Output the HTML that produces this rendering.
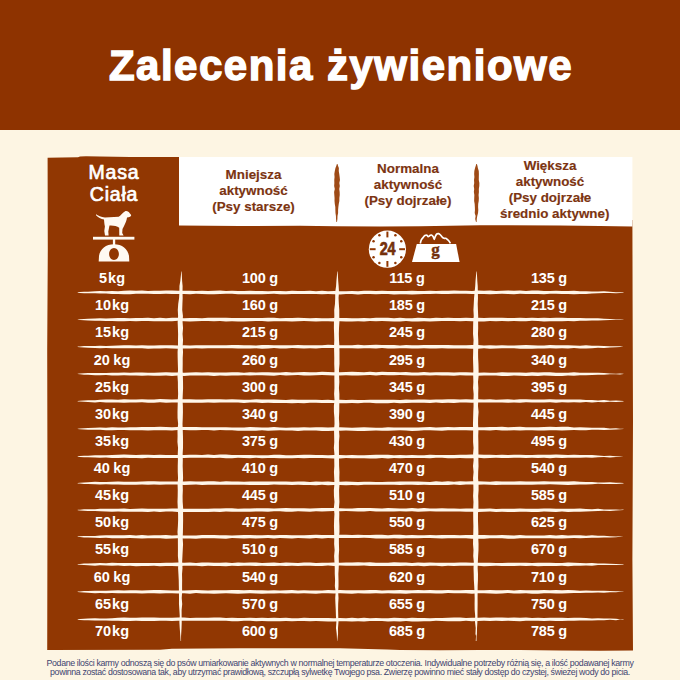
<!DOCTYPE html>
<html><head><meta charset="utf-8">
<style>
html,body{margin:0;padding:0;}
body{width:680px;height:680px;overflow:hidden;position:relative;background:#fdf5e3;font-family:"Liberation Sans",sans-serif;}
.hdr{position:absolute;left:0;top:0;width:680px;height:130px;background:#8e3300;}
.title{position:absolute;left:1px;top:40.5px;width:680px;text-align:center;color:#fff;font-weight:bold;font-size:42px;letter-spacing:1.5px;line-height:50px;white-space:nowrap;-webkit-text-stroke:1.4px #fff;}
svg.tb{position:absolute;left:0;top:0;}
.r{position:absolute;left:0;width:680px;height:20px;line-height:20px;font-size:14.5px;font-weight:bold;color:#fff;white-space:nowrap;}
.r span.c1,.r span.c2,.r span.c3,.r span.c4{position:absolute;top:0;text-align:center;}
.c1{left:62px;width:100px;}
.c2{left:210px;width:100px;letter-spacing:-0.2px;}
.c3{left:357px;width:100px;letter-spacing:-0.2px;}
.c4{left:499px;width:100px;letter-spacing:-0.2px;}
.kg{margin-left:1px;}
.hd{position:absolute;text-align:center;color:#7c3411;font-weight:bold;font-size:13.4px;line-height:16px;white-space:nowrap;-webkit-text-stroke:0.15px #7c3411;}
.masa{position:absolute;left:64px;width:100px;top:160.5px;text-align:center;color:#fff;font-weight:normal;font-size:19.5px;letter-spacing:0.8px;line-height:22.7px;-webkit-text-stroke:0.7px #fff;}
.foot{position:absolute;left:0;width:680px;top:659px;text-align:center;color:#3d4470;font-size:8.8px;letter-spacing:-0.35px;line-height:9.4px;white-space:nowrap;}
</style></head><body>
<div class="hdr"></div>
<div class="title">Zalecenia żywieniowe</div>
<svg class="tb" width="680" height="680" viewBox="0 0 680 680">
<path fill="#913702" d="M47.6 157.8 L62 157.4 L78 157.2 L80 156.4 L86 156.2 L100 156.6 L130 156.9 L179 157 L600 157 L600 220 L632.4 220 L632.6 300 L633 420 L632.4 560 L633 650.5 L600 650.8 L560 650.5 L520 650 L480 650 L440 650.3 L400 650 L387 649.6 L340 648.3 L240 648.2 L172 648.8 L160 649.8 L47.2 650 L47.5 500 L47.2 350 L47.8 250 Z"/>
<path fill="#ffffff" d="M179 157 L632.4 157 L632.4 226.4 L600 226 L560 225.6 L480 225.2 L420 226.2 L380 226.4 L336 226.2 L300 225.8 L240 226 L179 225.6 Z"/>
<path fill="#9e4a16" d="M336.90 164.0 L336.28 166.0 L335.45 168.0 L334.81 171.0 L334.32 174.0 L334.56 177.0 L334.26 180.0 L334.35 183.0 L334.15 186.0 L334.79 189.0 L334.11 192.0 L334.32 195.0 L334.56 198.0 L334.52 201.0 L334.79 204.0 L335.32 207.0 L335.36 210.0 L335.49 213.0 L335.94 216.0 L336.03 219.0 L336.40 222.0 L337.00 222.0 L337.40 219.0 L337.50 216.0 L338.10 213.0 L338.09 210.0 L338.35 207.0 L338.75 204.0 L339.35 201.0 L339.36 198.0 L339.73 195.0 L339.65 192.0 L339.25 189.0 L339.80 186.0 L339.33 183.0 L339.96 180.0 L339.66 177.0 L339.26 174.0 L338.76 171.0 L338.87 168.0 L338.08 166.0 L337.50 164.0Z"/>
<path fill="#9e4a16" d="M476.30 164.0 L475.69 166.0 L475.03 168.0 L474.33 171.0 L474.16 174.0 L474.40 177.0 L474.02 180.0 L474.22 183.0 L473.70 186.0 L474.19 189.0 L473.85 192.0 L474.35 195.0 L474.23 198.0 L474.14 201.0 L474.67 204.0 L474.85 207.0 L474.95 210.0 L474.69 213.0 L475.63 216.0 L475.19 219.0 L476.00 222.0 L476.60 222.0 L476.75 219.0 L477.27 216.0 L478.04 213.0 L478.29 210.0 L478.10 207.0 L478.19 204.0 L478.71 201.0 L478.85 198.0 L478.58 195.0 L478.92 192.0 L478.83 189.0 L479.29 186.0 L479.37 183.0 L478.79 180.0 L478.83 177.0 L478.89 174.0 L478.77 171.0 L477.86 168.0 L477.49 166.0 L476.90 164.0Z"/>
<g fill="#fff6e9">
<path d="M77.7 292.30 L80.0 292.11 L84.0 291.79 L88.0 291.64 L95.0 291.33 L100.0 291.03 L106.0 291.37 L112.0 290.90 L118.0 291.23 L124.0 290.85 L130.0 290.61 L136.0 290.73 L142.0 290.60 L148.0 291.00 L154.0 290.85 L160.0 290.72 L166.0 290.53 L172.0 290.62 L178.0 290.75 L184.0 290.85 L190.0 290.68 L196.0 290.93 L202.0 290.86 L208.0 291.04 L214.0 290.70 L220.0 290.61 L226.0 291.00 L232.0 290.85 L238.0 290.96 L244.0 290.92 L250.0 290.77 L256.0 290.95 L262.0 290.88 L268.0 291.19 L274.0 291.03 L280.0 291.06 L286.0 291.25 L292.0 290.83 L298.0 291.07 L304.0 290.95 L310.0 290.75 L316.0 291.15 L322.0 290.84 L328.0 291.22 L334.0 290.97 L340.0 291.23 L346.0 291.22 L352.0 290.95 L358.0 291.23 L364.0 290.79 L370.0 290.84 L376.0 290.98 L382.0 290.85 L388.0 290.93 L394.0 291.01 L400.0 291.08 L406.0 291.03 L412.0 290.68 L418.0 291.10 L424.0 291.10 L430.0 290.85 L436.0 290.98 L442.0 290.63 L448.0 290.68 L454.0 290.60 L460.0 290.65 L466.0 290.77 L472.0 291.07 L478.0 290.62 L484.0 290.73 L490.0 290.59 L496.0 291.11 L502.0 290.80 L508.0 290.56 L514.0 290.66 L520.0 290.59 L526.0 291.06 L532.0 290.58 L538.0 290.51 L544.0 291.09 L550.0 290.92 L556.0 290.73 L562.0 290.98 L568.0 290.99 L574.0 290.74 L580.0 291.33 L586.0 291.35 L592.0 291.45 L598.0 291.49 L604.0 291.37 L610.0 291.70 L616.0 292.15 L620.0 292.15 L623.5 292.60 L623.5 292.98 L620.0 293.09 L616.0 293.23 L610.0 292.99 L604.0 293.02 L598.0 293.36 L592.0 293.44 L586.0 293.91 L580.0 294.05 L574.0 294.13 L568.0 293.92 L562.0 294.03 L556.0 293.81 L550.0 293.86 L544.0 294.22 L538.0 294.01 L532.0 294.02 L526.0 294.01 L520.0 293.71 L514.0 294.19 L508.0 293.91 L502.0 293.76 L496.0 293.99 L490.0 294.23 L484.0 293.94 L478.0 293.88 L472.0 294.11 L466.0 293.77 L460.0 293.82 L454.0 293.77 L448.0 293.99 L442.0 293.92 L436.0 293.84 L430.0 293.88 L424.0 294.06 L418.0 294.36 L412.0 294.39 L406.0 294.26 L400.0 294.17 L394.0 294.45 L388.0 294.10 L382.0 293.89 L376.0 294.25 L370.0 294.04 L364.0 294.01 L358.0 294.48 L352.0 294.12 L346.0 294.07 L340.0 294.40 L334.0 294.23 L328.0 293.95 L322.0 294.13 L316.0 293.97 L310.0 293.92 L304.0 293.98 L298.0 293.88 L292.0 294.09 L286.0 294.34 L280.0 294.23 L274.0 293.87 L268.0 294.10 L262.0 294.31 L256.0 294.14 L250.0 294.20 L244.0 294.30 L238.0 294.22 L232.0 293.78 L226.0 293.84 L220.0 293.99 L214.0 294.31 L208.0 294.16 L202.0 294.03 L196.0 293.85 L190.0 294.18 L184.0 293.97 L178.0 293.88 L172.0 294.10 L166.0 293.73 L160.0 294.02 L154.0 294.08 L148.0 293.80 L142.0 293.86 L136.0 293.75 L130.0 294.17 L124.0 294.22 L118.0 293.95 L112.0 293.89 L106.0 293.50 L100.0 293.60 L95.0 293.31 L88.0 293.33 L84.0 293.19 L80.0 292.88 L77.7 292.70Z"/>
<path d="M77.7 319.40 L80.0 319.21 L84.0 318.89 L88.0 318.74 L95.0 318.57 L100.0 318.14 L106.0 318.53 L112.0 318.33 L118.0 317.89 L124.0 317.93 L130.0 318.29 L136.0 317.92 L142.0 318.09 L148.0 317.71 L154.0 318.16 L160.0 317.71 L166.0 318.21 L172.0 317.83 L178.0 317.70 L184.0 318.20 L190.0 317.94 L196.0 317.89 L202.0 318.13 L208.0 317.79 L214.0 317.79 L220.0 317.81 L226.0 317.74 L232.0 317.88 L238.0 318.02 L244.0 317.93 L250.0 317.99 L256.0 318.01 L262.0 317.97 L268.0 317.72 L274.0 317.83 L280.0 318.17 L286.0 317.93 L292.0 318.08 L298.0 317.82 L304.0 317.91 L310.0 318.23 L316.0 318.11 L322.0 318.32 L328.0 318.14 L334.0 318.09 L340.0 318.05 L346.0 318.07 L352.0 318.20 L358.0 318.35 L364.0 318.11 L370.0 318.28 L376.0 317.84 L382.0 317.81 L388.0 317.81 L394.0 318.23 L400.0 317.84 L406.0 318.14 L412.0 318.27 L418.0 317.86 L424.0 317.96 L430.0 318.31 L436.0 317.80 L442.0 318.00 L448.0 317.80 L454.0 318.11 L460.0 318.00 L466.0 317.67 L472.0 318.03 L478.0 317.69 L484.0 318.11 L490.0 317.70 L496.0 317.65 L502.0 317.79 L508.0 317.88 L514.0 318.11 L520.0 317.71 L526.0 317.96 L532.0 317.67 L538.0 318.03 L544.0 317.67 L550.0 318.01 L556.0 317.68 L562.0 317.67 L568.0 317.91 L574.0 318.06 L580.0 318.01 L586.0 318.29 L592.0 318.18 L598.0 318.32 L604.0 318.64 L610.0 319.09 L616.0 319.13 L620.0 319.19 L623.5 319.26 L623.5 319.52 L620.0 319.64 L616.0 319.87 L610.0 320.11 L604.0 320.29 L598.0 320.38 L592.0 320.51 L586.0 320.68 L580.0 320.73 L574.0 321.32 L568.0 321.04 L562.0 321.35 L556.0 321.34 L550.0 321.31 L544.0 321.38 L538.0 321.08 L532.0 320.85 L526.0 321.24 L520.0 321.37 L514.0 320.98 L508.0 321.37 L502.0 320.90 L496.0 321.30 L490.0 321.00 L484.0 321.42 L478.0 321.44 L472.0 321.16 L466.0 321.06 L460.0 321.13 L454.0 320.89 L448.0 321.08 L442.0 321.10 L436.0 321.16 L430.0 321.41 L424.0 321.21 L418.0 321.50 L412.0 321.52 L406.0 321.03 L400.0 321.38 L394.0 321.49 L388.0 321.36 L382.0 321.11 L376.0 321.24 L370.0 321.06 L364.0 321.54 L358.0 321.14 L352.0 321.51 L346.0 321.55 L340.0 321.30 L334.0 321.39 L328.0 321.28 L322.0 321.24 L316.0 321.42 L310.0 321.27 L304.0 321.12 L298.0 321.29 L292.0 321.42 L286.0 321.25 L280.0 321.26 L274.0 321.21 L268.0 321.39 L262.0 321.02 L256.0 320.91 L250.0 321.21 L244.0 321.43 L238.0 321.41 L232.0 321.14 L226.0 321.40 L220.0 321.10 L214.0 321.20 L208.0 321.01 L202.0 320.96 L196.0 321.35 L190.0 321.38 L184.0 321.21 L178.0 320.83 L172.0 321.15 L166.0 321.21 L160.0 321.32 L154.0 321.31 L148.0 320.91 L142.0 320.90 L136.0 321.35 L130.0 321.01 L124.0 321.24 L118.0 321.19 L112.0 320.91 L106.0 321.01 L100.0 320.85 L95.0 320.86 L88.0 320.43 L84.0 320.29 L80.0 319.98 L77.7 319.80Z"/>
<path d="M77.7 346.60 L80.0 346.42 L84.0 346.11 L88.0 345.98 L95.0 345.94 L100.0 345.68 L106.0 345.88 L112.0 345.71 L118.0 345.50 L124.0 345.30 L130.0 345.15 L136.0 345.51 L142.0 345.15 L148.0 345.54 L154.0 345.44 L160.0 345.18 L166.0 345.32 L172.0 345.31 L178.0 345.61 L184.0 345.36 L190.0 345.61 L196.0 345.24 L202.0 345.24 L208.0 345.31 L214.0 345.30 L220.0 345.14 L226.0 345.21 L232.0 344.97 L238.0 345.09 L244.0 345.25 L250.0 345.31 L256.0 345.43 L262.0 345.09 L268.0 344.97 L274.0 345.25 L280.0 345.35 L286.0 345.21 L292.0 345.31 L298.0 345.12 L304.0 345.30 L310.0 345.29 L316.0 345.32 L322.0 345.19 L328.0 344.79 L334.0 344.98 L340.0 345.26 L346.0 345.14 L352.0 345.17 L358.0 344.76 L364.0 345.21 L370.0 345.09 L376.0 344.82 L382.0 344.94 L388.0 344.95 L394.0 344.93 L400.0 345.40 L406.0 345.06 L412.0 345.25 L418.0 345.22 L424.0 344.91 L430.0 345.03 L436.0 345.08 L442.0 344.92 L448.0 345.09 L454.0 345.35 L460.0 345.13 L466.0 345.24 L472.0 345.05 L478.0 345.11 L484.0 345.56 L490.0 345.29 L496.0 345.60 L502.0 345.19 L508.0 345.60 L514.0 345.38 L520.0 345.35 L526.0 345.12 L532.0 345.34 L538.0 345.46 L544.0 345.57 L550.0 345.04 L556.0 345.32 L562.0 345.20 L568.0 345.21 L574.0 345.58 L580.0 345.64 L586.0 345.37 L592.0 345.84 L598.0 345.74 L604.0 345.94 L610.0 346.22 L616.0 346.30 L620.0 346.20 L623.5 346.79 L623.5 346.86 L620.0 346.88 L616.0 347.13 L610.0 347.39 L604.0 347.96 L598.0 347.76 L592.0 348.25 L586.0 348.41 L580.0 348.49 L574.0 348.12 L568.0 348.40 L562.0 348.30 L556.0 348.49 L550.0 348.23 L544.0 348.53 L538.0 348.38 L532.0 348.77 L526.0 348.73 L520.0 348.81 L514.0 348.32 L508.0 348.36 L502.0 348.35 L496.0 348.49 L490.0 348.70 L484.0 348.21 L478.0 348.78 L472.0 348.71 L466.0 348.45 L460.0 348.46 L454.0 348.54 L448.0 348.53 L442.0 348.15 L436.0 348.44 L430.0 348.53 L424.0 348.15 L418.0 348.44 L412.0 348.50 L406.0 348.31 L400.0 348.31 L394.0 348.45 L388.0 348.43 L382.0 348.03 L376.0 348.42 L370.0 348.37 L364.0 348.27 L358.0 348.44 L352.0 348.25 L346.0 348.34 L340.0 348.30 L334.0 348.03 L328.0 348.05 L322.0 348.11 L316.0 348.39 L310.0 348.34 L304.0 348.48 L298.0 348.31 L292.0 348.11 L286.0 348.47 L280.0 348.58 L274.0 348.09 L268.0 348.51 L262.0 348.68 L256.0 348.34 L250.0 348.55 L244.0 348.58 L238.0 348.50 L232.0 348.34 L226.0 348.20 L220.0 348.24 L214.0 348.20 L208.0 348.33 L202.0 348.50 L196.0 348.22 L190.0 348.42 L184.0 348.38 L178.0 348.82 L172.0 348.40 L166.0 348.33 L160.0 348.41 L154.0 348.40 L148.0 348.75 L142.0 348.25 L136.0 348.33 L130.0 348.19 L124.0 348.15 L118.0 348.30 L112.0 348.37 L106.0 348.05 L100.0 348.15 L95.0 347.88 L88.0 347.67 L84.0 347.51 L80.0 347.19 L77.7 347.00Z"/>
<path d="M77.7 373.70 L80.0 373.53 L84.0 373.23 L88.0 373.10 L95.0 372.95 L100.0 373.08 L106.0 372.88 L112.0 372.81 L118.0 372.75 L124.0 372.45 L130.0 372.83 L136.0 372.55 L142.0 372.44 L148.0 372.84 L154.0 372.65 L160.0 372.59 L166.0 372.36 L172.0 372.39 L178.0 372.56 L184.0 372.79 L190.0 372.51 L196.0 372.35 L202.0 372.42 L208.0 372.34 L214.0 372.52 L220.0 372.61 L226.0 372.39 L232.0 372.34 L238.0 372.13 L244.0 372.64 L250.0 372.34 L256.0 372.53 L262.0 372.14 L268.0 372.19 L274.0 372.50 L280.0 372.43 L286.0 371.90 L292.0 372.39 L298.0 372.18 L304.0 372.05 L310.0 372.29 L316.0 372.36 L322.0 371.83 L328.0 372.07 L334.0 372.31 L340.0 372.13 L346.0 372.01 L352.0 371.76 L358.0 371.88 L364.0 372.14 L370.0 371.83 L376.0 372.15 L382.0 371.85 L388.0 372.11 L394.0 372.05 L400.0 372.20 L406.0 372.04 L412.0 372.46 L418.0 372.44 L424.0 372.08 L430.0 372.54 L436.0 372.18 L442.0 372.32 L448.0 372.30 L454.0 372.47 L460.0 372.23 L466.0 372.33 L472.0 372.56 L478.0 372.65 L484.0 372.49 L490.0 372.79 L496.0 372.71 L502.0 372.37 L508.0 372.42 L514.0 372.55 L520.0 372.39 L526.0 372.66 L532.0 372.35 L538.0 372.39 L544.0 372.34 L550.0 372.28 L556.0 372.77 L562.0 372.66 L568.0 372.76 L574.0 372.37 L580.0 372.81 L586.0 372.86 L592.0 372.79 L598.0 372.80 L604.0 373.00 L610.0 373.56 L616.0 373.72 L620.0 373.48 L623.5 373.87 L623.5 374.03 L620.0 374.41 L616.0 374.20 L610.0 374.36 L604.0 374.70 L598.0 374.68 L592.0 375.06 L586.0 375.25 L580.0 375.18 L574.0 375.86 L568.0 375.60 L562.0 376.02 L556.0 375.96 L550.0 375.68 L544.0 375.48 L538.0 376.04 L532.0 375.70 L526.0 376.03 L520.0 375.71 L514.0 375.57 L508.0 376.02 L502.0 375.89 L496.0 375.56 L490.0 375.59 L484.0 375.51 L478.0 375.81 L472.0 375.46 L466.0 375.58 L460.0 375.32 L454.0 375.83 L448.0 375.40 L442.0 375.62 L436.0 375.20 L430.0 375.59 L424.0 375.29 L418.0 375.40 L412.0 375.47 L406.0 375.34 L400.0 375.05 L394.0 375.15 L388.0 375.35 L382.0 375.03 L376.0 375.39 L370.0 375.11 L364.0 375.13 L358.0 375.49 L352.0 375.41 L346.0 375.27 L340.0 375.40 L334.0 375.38 L328.0 375.36 L322.0 375.06 L316.0 375.13 L310.0 375.51 L304.0 375.57 L298.0 375.03 L292.0 375.34 L286.0 375.50 L280.0 375.12 L274.0 375.64 L268.0 375.42 L262.0 375.33 L256.0 375.34 L250.0 375.61 L244.0 375.34 L238.0 375.46 L232.0 375.52 L226.0 375.65 L220.0 375.61 L214.0 375.91 L208.0 375.56 L202.0 375.47 L196.0 375.49 L190.0 375.53 L184.0 376.05 L178.0 375.59 L172.0 376.00 L166.0 375.56 L160.0 375.70 L154.0 375.63 L148.0 375.60 L142.0 375.85 L136.0 375.58 L130.0 375.42 L124.0 375.33 L118.0 375.62 L112.0 375.39 L106.0 375.03 L100.0 375.21 L95.0 375.32 L88.0 374.79 L84.0 374.63 L80.0 374.29 L77.7 374.10Z"/>
<path d="M77.7 401.00 L80.0 400.81 L84.0 400.47 L88.0 400.31 L95.0 400.21 L100.0 399.64 L106.0 399.53 L112.0 399.53 L118.0 399.80 L124.0 399.36 L130.0 399.52 L136.0 399.55 L142.0 399.25 L148.0 399.51 L154.0 399.42 L160.0 399.05 L166.0 399.31 L172.0 399.60 L178.0 399.18 L184.0 399.34 L190.0 399.16 L196.0 399.50 L202.0 399.54 L208.0 399.29 L214.0 399.33 L220.0 399.18 L226.0 399.61 L232.0 399.22 L238.0 399.54 L244.0 399.82 L250.0 399.86 L256.0 399.34 L262.0 399.62 L268.0 399.62 L274.0 399.62 L280.0 399.81 L286.0 399.94 L292.0 399.52 L298.0 399.65 L304.0 399.72 L310.0 399.63 L316.0 399.68 L322.0 400.07 L328.0 399.75 L334.0 400.16 L340.0 399.71 L346.0 399.96 L352.0 399.63 L358.0 400.06 L364.0 400.11 L370.0 399.73 L376.0 399.65 L382.0 399.87 L388.0 399.73 L394.0 399.76 L400.0 399.93 L406.0 399.51 L412.0 399.79 L418.0 399.61 L424.0 399.49 L430.0 399.70 L436.0 399.43 L442.0 399.48 L448.0 399.36 L454.0 399.35 L460.0 399.53 L466.0 399.23 L472.0 399.48 L478.0 399.18 L484.0 399.52 L490.0 399.26 L496.0 399.64 L502.0 399.40 L508.0 399.30 L514.0 399.64 L520.0 399.15 L526.0 399.15 L532.0 399.57 L538.0 399.53 L544.0 399.57 L550.0 399.15 L556.0 399.39 L562.0 399.62 L568.0 399.47 L574.0 399.49 L580.0 399.50 L586.0 400.03 L592.0 399.93 L598.0 400.40 L604.0 400.08 L610.0 400.80 L616.0 400.46 L620.0 400.82 L623.5 401.10 L623.5 401.62 L620.0 401.78 L616.0 401.91 L610.0 401.80 L604.0 402.23 L598.0 401.91 L592.0 402.41 L586.0 402.10 L580.0 402.45 L574.0 402.32 L568.0 402.52 L562.0 402.33 L556.0 402.65 L550.0 402.26 L544.0 402.52 L538.0 402.48 L532.0 402.48 L526.0 402.23 L520.0 402.67 L514.0 402.46 L508.0 402.76 L502.0 402.47 L496.0 402.46 L490.0 402.47 L484.0 402.55 L478.0 402.42 L472.0 402.73 L466.0 402.61 L460.0 402.44 L454.0 402.90 L448.0 402.64 L442.0 402.89 L436.0 402.52 L430.0 402.93 L424.0 402.72 L418.0 402.68 L412.0 402.75 L406.0 403.00 L400.0 403.23 L394.0 402.84 L388.0 403.23 L382.0 403.28 L376.0 403.32 L370.0 402.82 L364.0 402.78 L358.0 403.27 L352.0 403.05 L346.0 403.36 L340.0 403.25 L334.0 403.07 L328.0 402.99 L322.0 403.09 L316.0 402.82 L310.0 402.86 L304.0 403.14 L298.0 403.01 L292.0 403.16 L286.0 403.03 L280.0 403.05 L274.0 402.95 L268.0 402.69 L262.0 402.94 L256.0 402.55 L250.0 402.62 L244.0 402.96 L238.0 402.60 L232.0 402.40 L226.0 402.51 L220.0 402.45 L214.0 402.78 L208.0 402.48 L202.0 402.64 L196.0 402.75 L190.0 402.73 L184.0 402.80 L178.0 402.49 L172.0 402.46 L166.0 402.80 L160.0 402.37 L154.0 402.80 L148.0 402.79 L142.0 402.23 L136.0 402.41 L130.0 402.38 L124.0 402.79 L118.0 402.40 L112.0 402.57 L106.0 402.60 L100.0 402.00 L95.0 402.38 L88.0 402.00 L84.0 401.87 L80.0 401.57 L77.7 401.40Z"/>
<path d="M77.7 428.70 L80.0 428.51 L84.0 428.18 L88.0 428.02 L95.0 427.75 L100.0 427.42 L106.0 427.66 L112.0 427.14 L118.0 427.46 L124.0 427.44 L130.0 427.27 L136.0 427.25 L142.0 427.10 L148.0 427.07 L154.0 427.07 L160.0 426.81 L166.0 427.09 L172.0 427.25 L178.0 427.07 L184.0 427.09 L190.0 426.89 L196.0 426.88 L202.0 427.14 L208.0 427.23 L214.0 427.30 L220.0 427.18 L226.0 427.19 L232.0 427.48 L238.0 427.44 L244.0 427.39 L250.0 427.09 L256.0 427.29 L262.0 427.56 L268.0 427.51 L274.0 427.10 L280.0 427.53 L286.0 427.63 L292.0 427.60 L298.0 427.43 L304.0 427.27 L310.0 427.46 L316.0 427.19 L322.0 427.28 L328.0 427.60 L334.0 427.30 L340.0 427.27 L346.0 427.59 L352.0 427.73 L358.0 427.55 L364.0 427.26 L370.0 427.57 L376.0 427.66 L382.0 427.76 L388.0 427.37 L394.0 427.41 L400.0 427.57 L406.0 427.60 L412.0 427.47 L418.0 427.42 L424.0 427.24 L430.0 427.05 L436.0 427.38 L442.0 427.29 L448.0 427.04 L454.0 427.34 L460.0 426.93 L466.0 426.97 L472.0 427.02 L478.0 427.22 L484.0 427.23 L490.0 426.92 L496.0 426.97 L502.0 426.87 L508.0 427.33 L514.0 427.04 L520.0 426.81 L526.0 427.13 L532.0 427.18 L538.0 427.36 L544.0 426.95 L550.0 426.84 L556.0 427.06 L562.0 426.87 L568.0 426.85 L574.0 427.50 L580.0 427.19 L586.0 427.52 L592.0 427.85 L598.0 427.73 L604.0 427.75 L610.0 428.39 L616.0 428.13 L620.0 428.73 L623.5 428.86 L623.5 429.09 L620.0 429.21 L616.0 429.56 L610.0 429.65 L604.0 429.91 L598.0 429.70 L592.0 429.76 L586.0 430.16 L580.0 430.24 L574.0 430.06 L568.0 430.37 L562.0 430.50 L556.0 430.16 L550.0 430.33 L544.0 430.55 L538.0 430.44 L532.0 430.26 L526.0 430.21 L520.0 430.39 L514.0 430.16 L508.0 430.48 L502.0 430.40 L496.0 430.12 L490.0 430.60 L484.0 430.34 L478.0 430.19 L472.0 430.44 L466.0 430.32 L460.0 430.34 L454.0 430.16 L448.0 430.30 L442.0 430.72 L436.0 430.47 L430.0 430.32 L424.0 430.25 L418.0 430.67 L412.0 430.88 L406.0 430.46 L400.0 430.35 L394.0 430.45 L388.0 430.81 L382.0 430.72 L376.0 430.54 L370.0 430.63 L364.0 430.99 L358.0 430.93 L352.0 430.74 L346.0 430.62 L340.0 430.72 L334.0 430.87 L328.0 430.93 L322.0 430.95 L316.0 430.48 L310.0 430.55 L304.0 430.50 L298.0 430.88 L292.0 430.40 L286.0 430.46 L280.0 430.37 L274.0 430.47 L268.0 430.79 L262.0 430.31 L256.0 430.77 L250.0 430.76 L244.0 430.64 L238.0 430.73 L232.0 430.19 L226.0 430.32 L220.0 430.11 L214.0 430.52 L208.0 430.09 L202.0 430.06 L196.0 430.29 L190.0 430.27 L184.0 430.07 L178.0 430.11 L172.0 430.46 L166.0 430.14 L160.0 430.37 L154.0 430.27 L148.0 430.40 L142.0 430.34 L136.0 430.16 L130.0 430.30 L124.0 430.04 L118.0 429.96 L112.0 430.20 L106.0 430.32 L100.0 429.85 L95.0 429.87 L88.0 429.71 L84.0 429.58 L80.0 429.28 L77.7 429.10Z"/>
<path d="M77.7 456.30 L80.0 456.11 L84.0 455.78 L88.0 455.63 L95.0 455.21 L100.0 455.22 L106.0 455.16 L112.0 455.12 L118.0 454.76 L124.0 454.58 L130.0 454.68 L136.0 455.07 L142.0 454.67 L148.0 454.65 L154.0 454.98 L160.0 454.85 L166.0 455.02 L172.0 454.94 L178.0 454.95 L184.0 454.88 L190.0 454.63 L196.0 454.83 L202.0 455.01 L208.0 454.49 L214.0 455.04 L220.0 454.58 L226.0 454.54 L232.0 454.91 L238.0 454.99 L244.0 454.91 L250.0 455.07 L256.0 455.13 L262.0 455.13 L268.0 455.20 L274.0 454.77 L280.0 454.68 L286.0 455.16 L292.0 455.19 L298.0 454.88 L304.0 454.78 L310.0 454.85 L316.0 454.99 L322.0 454.90 L328.0 455.18 L334.0 454.95 L340.0 455.07 L346.0 455.14 L352.0 455.01 L358.0 455.23 L364.0 455.18 L370.0 454.88 L376.0 454.80 L382.0 454.84 L388.0 454.85 L394.0 455.30 L400.0 455.00 L406.0 455.17 L412.0 454.97 L418.0 455.16 L424.0 455.21 L430.0 454.75 L436.0 454.90 L442.0 454.97 L448.0 455.04 L454.0 455.03 L460.0 454.75 L466.0 454.76 L472.0 454.56 L478.0 454.51 L484.0 454.64 L490.0 454.77 L496.0 454.99 L502.0 454.73 L508.0 454.90 L514.0 454.83 L520.0 454.63 L526.0 454.94 L532.0 454.88 L538.0 454.70 L544.0 454.79 L550.0 454.72 L556.0 454.60 L562.0 454.64 L568.0 454.98 L574.0 454.66 L580.0 454.89 L586.0 454.93 L592.0 455.09 L598.0 455.59 L604.0 455.91 L610.0 455.76 L616.0 456.21 L620.0 456.14 L623.5 456.40 L623.5 456.48 L620.0 456.65 L616.0 457.10 L610.0 457.42 L604.0 457.05 L598.0 457.19 L592.0 457.86 L586.0 457.59 L580.0 457.81 L574.0 457.75 L568.0 457.77 L562.0 458.09 L556.0 457.77 L550.0 458.18 L544.0 457.72 L538.0 458.10 L532.0 457.74 L526.0 458.03 L520.0 457.73 L514.0 457.85 L508.0 458.10 L502.0 457.97 L496.0 457.80 L490.0 457.90 L484.0 458.22 L478.0 457.82 L472.0 458.24 L466.0 458.26 L460.0 457.98 L454.0 458.13 L448.0 458.19 L442.0 457.84 L436.0 457.87 L430.0 458.24 L424.0 458.01 L418.0 458.01 L412.0 458.08 L406.0 458.00 L400.0 458.20 L394.0 457.92 L388.0 458.38 L382.0 457.94 L376.0 458.44 L370.0 458.47 L364.0 458.28 L358.0 458.17 L352.0 458.23 L346.0 457.98 L340.0 458.47 L334.0 458.54 L328.0 458.18 L322.0 458.12 L316.0 457.95 L310.0 458.12 L304.0 458.37 L298.0 457.97 L292.0 458.27 L286.0 458.26 L280.0 458.37 L274.0 457.91 L268.0 457.89 L262.0 458.36 L256.0 457.83 L250.0 458.27 L244.0 457.98 L238.0 457.78 L232.0 458.15 L226.0 458.13 L220.0 457.72 L214.0 457.89 L208.0 457.74 L202.0 457.75 L196.0 457.70 L190.0 457.77 L184.0 457.98 L178.0 457.90 L172.0 458.05 L166.0 457.92 L160.0 458.04 L154.0 458.02 L148.0 457.78 L142.0 458.15 L136.0 458.06 L130.0 458.05 L124.0 457.75 L118.0 458.09 L112.0 458.06 L106.0 457.56 L100.0 457.79 L95.0 457.58 L88.0 457.32 L84.0 457.18 L80.0 456.88 L77.7 456.70Z"/>
<path d="M77.7 483.00 L80.0 482.81 L84.0 482.48 L88.0 482.32 L95.0 481.83 L100.0 481.90 L106.0 482.09 L112.0 481.77 L118.0 481.57 L124.0 481.69 L130.0 481.69 L136.0 481.71 L142.0 481.55 L148.0 481.33 L154.0 481.19 L160.0 481.60 L166.0 481.50 L172.0 481.38 L178.0 481.50 L184.0 481.54 L190.0 481.25 L196.0 481.61 L202.0 481.45 L208.0 481.19 L214.0 481.27 L220.0 481.76 L226.0 481.27 L232.0 481.55 L238.0 481.55 L244.0 481.75 L250.0 481.52 L256.0 481.42 L262.0 481.55 L268.0 481.40 L274.0 481.56 L280.0 481.53 L286.0 481.39 L292.0 481.65 L298.0 481.62 L304.0 481.56 L310.0 482.00 L316.0 481.58 L322.0 481.69 L328.0 481.54 L334.0 481.96 L340.0 481.76 L346.0 481.61 L352.0 481.69 L358.0 481.96 L364.0 481.75 L370.0 481.79 L376.0 481.96 L382.0 481.96 L388.0 481.66 L394.0 481.68 L400.0 481.41 L406.0 481.56 L412.0 481.56 L418.0 481.62 L424.0 481.74 L430.0 481.88 L436.0 481.34 L442.0 481.83 L448.0 481.35 L454.0 481.63 L460.0 481.24 L466.0 481.61 L472.0 481.26 L478.0 481.33 L484.0 481.38 L490.0 481.70 L496.0 481.25 L502.0 481.51 L508.0 481.54 L514.0 481.60 L520.0 481.24 L526.0 481.44 L532.0 481.39 L538.0 481.46 L544.0 481.27 L550.0 481.43 L556.0 481.42 L562.0 481.45 L568.0 481.49 L574.0 481.26 L580.0 481.67 L586.0 481.93 L592.0 481.90 L598.0 482.43 L604.0 482.41 L610.0 482.24 L616.0 482.84 L620.0 482.78 L623.5 483.02 L623.5 483.41 L620.0 483.82 L616.0 483.92 L610.0 483.89 L604.0 484.07 L598.0 483.87 L592.0 484.22 L586.0 484.59 L580.0 484.53 L574.0 484.80 L568.0 484.88 L562.0 484.65 L556.0 484.43 L550.0 484.37 L544.0 484.41 L538.0 484.49 L532.0 484.85 L526.0 484.77 L520.0 484.74 L514.0 484.83 L508.0 484.87 L502.0 484.81 L496.0 484.89 L490.0 484.84 L484.0 484.46 L478.0 484.85 L472.0 484.49 L466.0 484.57 L460.0 485.01 L454.0 484.46 L448.0 484.97 L442.0 484.96 L436.0 485.00 L430.0 485.04 L424.0 484.76 L418.0 484.94 L412.0 484.86 L406.0 484.74 L400.0 485.04 L394.0 484.73 L388.0 484.79 L382.0 484.81 L376.0 484.87 L370.0 484.74 L364.0 484.85 L358.0 485.16 L352.0 485.06 L346.0 485.25 L340.0 485.01 L334.0 485.05 L328.0 485.13 L322.0 484.79 L316.0 485.13 L310.0 484.96 L304.0 485.07 L298.0 484.77 L292.0 485.02 L286.0 484.83 L280.0 484.81 L274.0 484.58 L268.0 485.12 L262.0 484.97 L256.0 484.90 L250.0 485.04 L244.0 484.77 L238.0 484.82 L232.0 484.85 L226.0 484.75 L220.0 484.70 L214.0 484.85 L208.0 484.69 L202.0 484.94 L196.0 484.58 L190.0 484.73 L184.0 484.89 L178.0 484.57 L172.0 484.60 L166.0 484.47 L160.0 484.75 L154.0 484.58 L148.0 484.70 L142.0 484.59 L136.0 484.71 L130.0 484.71 L124.0 484.81 L118.0 484.39 L112.0 484.62 L106.0 484.35 L100.0 484.46 L95.0 484.31 L88.0 484.01 L84.0 483.88 L80.0 483.58 L77.7 483.40Z"/>
<path d="M77.7 509.80 L80.0 509.63 L84.0 509.32 L88.0 509.20 L95.0 509.13 L100.0 508.87 L106.0 508.87 L112.0 508.64 L118.0 508.63 L124.0 508.52 L130.0 508.94 L136.0 508.82 L142.0 508.53 L148.0 508.68 L154.0 508.80 L160.0 508.77 L166.0 508.67 L172.0 508.52 L178.0 508.45 L184.0 508.69 L190.0 508.79 L196.0 508.68 L202.0 508.67 L208.0 508.64 L214.0 508.39 L220.0 508.52 L226.0 508.29 L232.0 508.23 L238.0 508.73 L244.0 508.38 L250.0 508.61 L256.0 508.26 L262.0 508.34 L268.0 508.32 L274.0 508.59 L280.0 508.35 L286.0 508.06 L292.0 508.31 L298.0 508.21 L304.0 508.16 L310.0 508.47 L316.0 508.18 L322.0 507.95 L328.0 508.00 L334.0 507.88 L340.0 508.27 L346.0 508.44 L352.0 508.38 L358.0 507.88 L364.0 508.02 L370.0 507.99 L376.0 508.35 L382.0 508.42 L388.0 507.97 L394.0 508.36 L400.0 508.51 L406.0 508.55 L412.0 508.00 L418.0 508.41 L424.0 508.09 L430.0 508.50 L436.0 508.61 L442.0 508.15 L448.0 508.49 L454.0 508.57 L460.0 508.67 L466.0 508.60 L472.0 508.48 L478.0 508.73 L484.0 508.74 L490.0 508.46 L496.0 508.89 L502.0 508.81 L508.0 508.69 L514.0 508.83 L520.0 508.52 L526.0 508.87 L532.0 508.75 L538.0 508.87 L544.0 508.50 L550.0 508.48 L556.0 508.66 L562.0 508.83 L568.0 508.78 L574.0 508.87 L580.0 508.61 L586.0 509.03 L592.0 509.21 L598.0 508.85 L604.0 509.41 L610.0 509.53 L616.0 509.38 L620.0 509.77 L623.5 509.60 L623.5 510.03 L620.0 510.29 L616.0 510.54 L610.0 510.94 L604.0 510.70 L598.0 511.10 L592.0 511.16 L586.0 511.52 L580.0 511.76 L574.0 511.73 L568.0 511.97 L562.0 511.52 L556.0 512.00 L550.0 511.77 L544.0 511.53 L538.0 512.02 L532.0 511.90 L526.0 511.76 L520.0 511.79 L514.0 511.89 L508.0 512.11 L502.0 511.71 L496.0 511.92 L490.0 511.52 L484.0 511.81 L478.0 512.02 L472.0 511.66 L466.0 511.79 L460.0 511.61 L454.0 511.45 L448.0 511.60 L442.0 511.54 L436.0 511.58 L430.0 511.37 L424.0 511.43 L418.0 511.71 L412.0 511.20 L406.0 511.60 L400.0 511.31 L394.0 511.41 L388.0 511.49 L382.0 511.54 L376.0 511.52 L370.0 511.11 L364.0 511.51 L358.0 511.50 L352.0 511.14 L346.0 511.11 L340.0 511.14 L334.0 511.07 L328.0 511.17 L322.0 511.47 L316.0 511.35 L310.0 511.70 L304.0 511.48 L298.0 511.16 L292.0 511.72 L286.0 511.67 L280.0 511.23 L274.0 511.27 L268.0 511.64 L262.0 511.47 L256.0 511.49 L250.0 511.67 L244.0 511.85 L238.0 511.78 L232.0 511.87 L226.0 511.54 L220.0 511.90 L214.0 511.87 L208.0 511.89 L202.0 511.92 L196.0 511.88 L190.0 512.07 L184.0 511.92 L178.0 512.09 L172.0 511.54 L166.0 511.57 L160.0 512.07 L154.0 511.56 L148.0 511.90 L142.0 511.67 L136.0 511.65 L130.0 511.81 L124.0 511.69 L118.0 511.62 L112.0 511.70 L106.0 511.58 L100.0 511.22 L95.0 511.00 L88.0 510.89 L84.0 510.72 L80.0 510.39 L77.7 510.20Z"/>
<path d="M77.7 536.50 L80.0 536.32 L84.0 536.02 L88.0 535.88 L95.0 535.88 L100.0 535.56 L106.0 535.31 L112.0 535.22 L118.0 535.25 L124.0 535.24 L130.0 535.07 L136.0 535.57 L142.0 535.03 L148.0 535.42 L154.0 535.30 L160.0 535.26 L166.0 534.97 L172.0 535.47 L178.0 535.29 L184.0 535.41 L190.0 535.51 L196.0 535.42 L202.0 535.08 L208.0 535.04 L214.0 534.95 L220.0 535.23 L226.0 535.15 L232.0 535.41 L238.0 535.21 L244.0 534.91 L250.0 534.98 L256.0 535.19 L262.0 535.19 L268.0 535.04 L274.0 535.34 L280.0 534.88 L286.0 534.88 L292.0 535.26 L298.0 535.21 L304.0 535.16 L310.0 535.07 L316.0 534.71 L322.0 535.12 L328.0 535.06 L334.0 535.01 L340.0 534.71 L346.0 534.80 L352.0 534.94 L358.0 534.79 L364.0 535.06 L370.0 535.09 L376.0 534.69 L382.0 534.81 L388.0 535.20 L394.0 534.78 L400.0 534.77 L406.0 535.23 L412.0 535.01 L418.0 535.24 L424.0 535.14 L430.0 534.91 L436.0 535.22 L442.0 534.90 L448.0 534.99 L454.0 534.93 L460.0 535.36 L466.0 534.97 L472.0 535.08 L478.0 534.97 L484.0 534.94 L490.0 535.32 L496.0 535.21 L502.0 535.09 L508.0 535.16 L514.0 535.55 L520.0 535.01 L526.0 535.49 L532.0 535.39 L538.0 535.54 L544.0 535.43 L550.0 535.02 L556.0 535.43 L562.0 535.04 L568.0 535.46 L574.0 535.33 L580.0 535.20 L586.0 535.63 L592.0 535.37 L598.0 535.83 L604.0 535.77 L610.0 536.14 L616.0 536.43 L620.0 536.19 L623.5 536.63 L623.5 536.83 L620.0 536.76 L616.0 537.22 L610.0 537.50 L604.0 537.39 L598.0 537.74 L592.0 537.67 L586.0 537.88 L580.0 538.36 L574.0 538.11 L568.0 538.25 L562.0 538.39 L556.0 538.45 L550.0 538.14 L544.0 538.35 L538.0 538.16 L532.0 538.33 L526.0 538.19 L520.0 538.32 L514.0 538.70 L508.0 538.74 L502.0 538.26 L496.0 538.30 L490.0 538.25 L484.0 538.65 L478.0 538.68 L472.0 538.63 L466.0 538.37 L460.0 538.26 L454.0 538.20 L448.0 538.27 L442.0 538.53 L436.0 538.33 L430.0 538.01 L424.0 538.05 L418.0 538.23 L412.0 538.14 L406.0 538.30 L400.0 538.46 L394.0 538.16 L388.0 538.42 L382.0 538.44 L376.0 538.42 L370.0 537.98 L364.0 537.86 L358.0 537.94 L352.0 537.95 L346.0 537.92 L340.0 538.05 L334.0 538.31 L328.0 538.04 L322.0 538.43 L316.0 537.96 L310.0 538.47 L304.0 538.32 L298.0 537.93 L292.0 538.46 L286.0 538.14 L280.0 537.97 L274.0 538.55 L268.0 538.07 L262.0 538.23 L256.0 538.58 L250.0 538.36 L244.0 538.61 L238.0 538.29 L232.0 538.10 L226.0 538.65 L220.0 538.62 L214.0 538.14 L208.0 538.22 L202.0 538.15 L196.0 538.71 L190.0 538.60 L184.0 538.40 L178.0 538.31 L172.0 538.44 L166.0 538.74 L160.0 538.16 L154.0 538.35 L148.0 538.23 L142.0 538.49 L136.0 538.31 L130.0 538.08 L124.0 538.33 L118.0 538.30 L112.0 538.28 L106.0 537.86 L100.0 537.99 L95.0 537.86 L88.0 537.57 L84.0 537.42 L80.0 537.09 L77.7 536.90Z"/>
<path d="M77.7 564.10 L80.0 563.92 L84.0 563.61 L88.0 563.48 L95.0 563.22 L100.0 563.03 L106.0 563.29 L112.0 562.80 L118.0 562.97 L124.0 562.89 L130.0 562.88 L136.0 562.99 L142.0 563.07 L148.0 562.96 L154.0 562.98 L160.0 563.06 L166.0 562.83 L172.0 562.85 L178.0 562.54 L184.0 562.66 L190.0 562.58 L196.0 563.01 L202.0 562.57 L208.0 562.62 L214.0 562.85 L220.0 562.80 L226.0 562.53 L232.0 562.89 L238.0 562.52 L244.0 562.73 L250.0 562.49 L256.0 562.49 L262.0 562.91 L268.0 562.72 L274.0 562.46 L280.0 562.91 L286.0 562.59 L292.0 562.64 L298.0 562.88 L304.0 562.51 L310.0 562.50 L316.0 562.88 L322.0 562.83 L328.0 562.78 L334.0 562.58 L340.0 562.83 L346.0 562.52 L352.0 562.49 L358.0 562.31 L364.0 562.58 L370.0 562.36 L376.0 562.75 L382.0 562.67 L388.0 562.83 L394.0 562.33 L400.0 562.48 L406.0 562.49 L412.0 562.90 L418.0 562.50 L424.0 562.63 L430.0 562.55 L436.0 562.78 L442.0 562.77 L448.0 562.73 L454.0 562.72 L460.0 562.54 L466.0 562.54 L472.0 562.72 L478.0 562.63 L484.0 562.82 L490.0 562.87 L496.0 562.90 L502.0 562.95 L508.0 562.85 L514.0 562.81 L520.0 562.68 L526.0 562.84 L532.0 562.88 L538.0 562.74 L544.0 562.67 L550.0 562.82 L556.0 563.11 L562.0 562.97 L568.0 562.54 L574.0 562.84 L580.0 562.91 L586.0 563.23 L592.0 563.05 L598.0 563.50 L604.0 563.41 L610.0 563.77 L616.0 564.05 L620.0 563.98 L623.5 564.23 L623.5 564.64 L620.0 564.76 L616.0 564.96 L610.0 565.04 L604.0 565.07 L598.0 565.12 L592.0 565.78 L586.0 565.42 L580.0 565.75 L574.0 565.65 L568.0 566.22 L562.0 565.81 L556.0 565.89 L550.0 565.89 L544.0 566.06 L538.0 566.25 L532.0 565.74 L526.0 565.96 L520.0 565.86 L514.0 565.92 L508.0 566.09 L502.0 566.00 L496.0 565.83 L490.0 566.05 L484.0 566.20 L478.0 565.74 L472.0 565.85 L466.0 565.84 L460.0 565.72 L454.0 565.96 L448.0 565.78 L442.0 566.18 L436.0 565.67 L430.0 565.76 L424.0 566.14 L418.0 565.87 L412.0 565.91 L406.0 565.85 L400.0 565.93 L394.0 565.89 L388.0 566.03 L382.0 565.98 L376.0 566.04 L370.0 566.06 L364.0 565.48 L358.0 565.73 L352.0 565.79 L346.0 565.85 L340.0 565.62 L334.0 566.05 L328.0 565.51 L322.0 565.97 L316.0 565.97 L310.0 565.76 L304.0 565.65 L298.0 565.98 L292.0 565.76 L286.0 566.04 L280.0 565.78 L274.0 566.06 L268.0 566.02 L262.0 565.68 L256.0 565.96 L250.0 565.86 L244.0 565.80 L238.0 565.94 L232.0 565.69 L226.0 566.19 L220.0 566.10 L214.0 566.04 L208.0 565.71 L202.0 566.13 L196.0 565.74 L190.0 565.87 L184.0 565.84 L178.0 566.31 L172.0 566.06 L166.0 566.04 L160.0 566.30 L154.0 565.77 L148.0 565.95 L142.0 565.89 L136.0 566.16 L130.0 565.71 L124.0 565.88 L118.0 565.56 L112.0 565.67 L106.0 565.56 L100.0 565.34 L95.0 565.66 L88.0 565.17 L84.0 565.01 L80.0 564.69 L77.7 564.50Z"/>
<path d="M77.7 591.60 L80.0 591.42 L84.0 591.10 L88.0 590.95 L95.0 590.69 L100.0 590.66 L106.0 590.69 L112.0 590.48 L118.0 590.29 L124.0 590.41 L130.0 590.19 L136.0 590.16 L142.0 590.39 L148.0 590.19 L154.0 590.00 L160.0 589.97 L166.0 590.23 L172.0 590.44 L178.0 590.39 L184.0 590.46 L190.0 590.14 L196.0 589.89 L202.0 590.23 L208.0 590.44 L214.0 590.21 L220.0 590.20 L226.0 590.30 L232.0 590.11 L238.0 590.11 L244.0 590.30 L250.0 589.96 L256.0 590.14 L262.0 590.25 L268.0 590.48 L274.0 590.17 L280.0 590.50 L286.0 590.23 L292.0 590.01 L298.0 590.50 L304.0 590.22 L310.0 590.45 L316.0 590.40 L322.0 590.45 L328.0 590.01 L334.0 590.22 L340.0 590.03 L346.0 590.29 L352.0 590.13 L358.0 590.30 L364.0 590.16 L370.0 590.10 L376.0 589.92 L382.0 590.42 L388.0 590.31 L394.0 590.21 L400.0 590.07 L406.0 590.23 L412.0 590.25 L418.0 589.98 L424.0 590.36 L430.0 589.96 L436.0 590.21 L442.0 590.27 L448.0 589.93 L454.0 590.36 L460.0 590.32 L466.0 589.99 L472.0 589.95 L478.0 590.24 L484.0 590.16 L490.0 589.92 L496.0 590.24 L502.0 590.15 L508.0 590.04 L514.0 590.44 L520.0 590.07 L526.0 590.37 L532.0 590.25 L538.0 590.18 L544.0 590.03 L550.0 590.32 L556.0 590.07 L562.0 590.18 L568.0 590.03 L574.0 590.18 L580.0 590.67 L586.0 590.55 L592.0 590.67 L598.0 590.75 L604.0 590.74 L610.0 591.06 L616.0 591.15 L620.0 591.32 L623.5 591.70 L623.5 591.91 L620.0 591.84 L616.0 592.13 L610.0 592.29 L604.0 592.82 L598.0 592.52 L592.0 592.87 L586.0 592.84 L580.0 593.07 L574.0 593.12 L568.0 593.19 L562.0 593.56 L556.0 593.61 L550.0 593.22 L544.0 593.32 L538.0 593.66 L532.0 593.66 L526.0 593.27 L520.0 593.62 L514.0 593.60 L508.0 593.11 L502.0 593.46 L496.0 593.66 L490.0 593.62 L484.0 593.32 L478.0 593.30 L472.0 593.63 L466.0 593.25 L460.0 593.31 L454.0 593.29 L448.0 593.10 L442.0 593.58 L436.0 593.59 L430.0 593.20 L424.0 593.17 L418.0 593.20 L412.0 593.35 L406.0 593.71 L400.0 593.50 L394.0 593.44 L388.0 593.23 L382.0 593.46 L376.0 593.30 L370.0 593.53 L364.0 593.59 L358.0 593.14 L352.0 593.71 L346.0 593.48 L340.0 593.22 L334.0 593.42 L328.0 593.29 L322.0 593.37 L316.0 593.71 L310.0 593.53 L304.0 593.18 L298.0 593.61 L292.0 593.30 L286.0 593.60 L280.0 593.31 L274.0 593.48 L268.0 593.39 L262.0 593.63 L256.0 593.44 L250.0 593.32 L244.0 593.41 L238.0 593.66 L232.0 593.45 L226.0 593.33 L220.0 593.40 L214.0 593.69 L208.0 593.55 L202.0 593.39 L196.0 593.12 L190.0 593.63 L184.0 593.21 L178.0 593.59 L172.0 593.28 L166.0 593.14 L160.0 593.43 L154.0 593.27 L148.0 593.35 L142.0 593.57 L136.0 593.23 L130.0 593.35 L124.0 593.18 L118.0 593.23 L112.0 593.09 L106.0 593.29 L100.0 592.93 L95.0 593.17 L88.0 592.64 L84.0 592.50 L80.0 592.18 L77.7 592.00Z"/>
<path d="M77.7 619.30 L80.0 619.11 L84.0 618.78 L88.0 618.62 L95.0 618.14 L100.0 618.38 L106.0 618.40 L112.0 618.28 L118.0 617.74 L124.0 617.62 L130.0 617.66 L136.0 617.82 L142.0 617.59 L148.0 617.54 L154.0 617.47 L160.0 617.72 L166.0 617.86 L172.0 617.79 L178.0 617.58 L184.0 617.45 L190.0 617.92 L196.0 617.82 L202.0 617.77 L208.0 617.74 L214.0 617.50 L220.0 617.61 L226.0 617.92 L232.0 617.75 L238.0 617.99 L244.0 618.07 L250.0 617.74 L256.0 618.00 L262.0 617.83 L268.0 618.03 L274.0 617.81 L280.0 617.89 L286.0 617.81 L292.0 618.26 L298.0 618.16 L304.0 617.77 L310.0 617.88 L316.0 618.00 L322.0 617.97 L328.0 617.90 L334.0 618.14 L340.0 617.96 L346.0 618.22 L352.0 617.81 L358.0 618.27 L364.0 617.82 L370.0 618.16 L376.0 617.93 L382.0 618.25 L388.0 618.31 L394.0 617.80 L400.0 617.96 L406.0 618.21 L412.0 617.74 L418.0 617.93 L424.0 618.06 L430.0 618.13 L436.0 617.88 L442.0 618.00 L448.0 617.87 L454.0 617.62 L460.0 617.55 L466.0 617.99 L472.0 617.81 L478.0 617.85 L484.0 617.60 L490.0 617.65 L496.0 617.55 L502.0 617.50 L508.0 617.81 L514.0 617.54 L520.0 617.66 L526.0 617.60 L532.0 617.92 L538.0 617.73 L544.0 617.89 L550.0 617.86 L556.0 617.82 L562.0 617.71 L568.0 617.94 L574.0 617.71 L580.0 617.80 L586.0 617.98 L592.0 618.38 L598.0 618.21 L604.0 618.60 L610.0 618.62 L616.0 618.73 L620.0 619.33 L623.5 619.45 L623.5 620.01 L620.0 619.58 L616.0 620.25 L610.0 619.86 L604.0 620.19 L598.0 620.31 L592.0 620.52 L586.0 620.49 L580.0 620.51 L574.0 620.79 L568.0 620.71 L562.0 621.09 L556.0 620.98 L550.0 620.71 L544.0 620.93 L538.0 620.80 L532.0 620.68 L526.0 620.77 L520.0 621.16 L514.0 620.91 L508.0 620.75 L502.0 621.04 L496.0 620.81 L490.0 620.88 L484.0 620.69 L478.0 620.99 L472.0 621.27 L466.0 620.86 L460.0 621.14 L454.0 621.20 L448.0 621.32 L442.0 621.04 L436.0 620.84 L430.0 621.21 L424.0 621.29 L418.0 621.43 L412.0 621.46 L406.0 621.08 L400.0 621.38 L394.0 621.36 L388.0 621.41 L382.0 621.10 L376.0 621.05 L370.0 621.02 L364.0 621.51 L358.0 621.18 L352.0 621.51 L346.0 621.22 L340.0 621.27 L334.0 621.43 L328.0 621.50 L322.0 621.37 L316.0 621.00 L310.0 621.14 L304.0 621.05 L298.0 620.96 L292.0 621.36 L286.0 620.97 L280.0 621.25 L274.0 621.36 L268.0 621.26 L262.0 621.06 L256.0 621.19 L250.0 620.79 L244.0 620.83 L238.0 621.26 L232.0 621.25 L226.0 620.86 L220.0 620.75 L214.0 620.84 L208.0 620.82 L202.0 620.85 L196.0 620.68 L190.0 620.80 L184.0 620.71 L178.0 620.83 L172.0 620.93 L166.0 620.82 L160.0 620.76 L154.0 620.91 L148.0 621.12 L142.0 620.95 L136.0 620.80 L130.0 621.11 L124.0 620.99 L118.0 620.81 L112.0 620.76 L106.0 620.50 L100.0 620.53 L95.0 620.45 L88.0 620.31 L84.0 620.18 L80.0 619.88 L77.7 619.70Z"/>
<path d="M181.30 271.5 L180.83 276.0 L180.30 281.0 L179.45 286.0 L179.39 292.0 L179.09 298.0 L178.21 304.0 L177.80 310.0 L178.09 316.0 L177.66 322.0 L177.90 328.0 L178.10 334.0 L178.00 340.0 L177.97 346.0 L177.58 352.0 L177.67 358.0 L177.84 364.0 L178.03 370.0 L177.48 376.0 L177.89 382.0 L177.94 388.0 L178.11 394.0 L177.80 400.0 L177.66 406.0 L177.51 412.0 L177.56 418.0 L178.13 424.0 L177.48 430.0 L177.58 436.0 L177.45 442.0 L178.05 448.0 L177.75 454.0 L177.91 460.0 L177.74 466.0 L177.76 472.0 L178.03 478.0 L177.57 484.0 L177.76 490.0 L177.69 496.0 L177.51 502.0 L177.77 508.0 L178.09 514.0 L178.13 520.0 L177.88 526.0 L177.49 532.0 L177.88 538.0 L177.91 544.0 L177.94 550.0 L177.90 556.0 L178.42 562.0 L178.09 568.0 L178.43 574.0 L178.74 580.0 L178.84 586.0 L178.95 592.0 L179.00 598.0 L178.98 604.0 L179.38 610.0 L179.74 616.0 L179.37 622.0 L179.72 628.0 L180.17 634.0 L180.29 636.0 L180.62 641.0 L181.07 641.0 L181.04 636.0 L181.20 634.0 L181.55 628.0 L181.74 622.0 L181.64 616.0 L181.61 610.0 L182.21 604.0 L181.73 598.0 L182.11 592.0 L182.08 586.0 L182.14 580.0 L182.02 574.0 L182.52 568.0 L182.14 562.0 L182.45 556.0 L182.75 550.0 L183.06 544.0 L182.66 538.0 L182.92 532.0 L183.02 526.0 L183.12 520.0 L183.06 514.0 L183.13 508.0 L182.68 502.0 L182.59 496.0 L182.84 490.0 L182.66 484.0 L183.08 478.0 L182.92 472.0 L182.69 466.0 L182.81 460.0 L182.65 454.0 L183.00 448.0 L183.04 442.0 L182.96 436.0 L182.76 430.0 L182.51 424.0 L182.76 418.0 L182.93 412.0 L182.86 406.0 L182.56 400.0 L182.80 394.0 L183.08 388.0 L183.02 382.0 L182.85 376.0 L182.62 370.0 L182.71 364.0 L182.71 358.0 L183.03 352.0 L182.68 346.0 L183.03 340.0 L182.57 334.0 L183.04 328.0 L182.58 322.0 L182.94 316.0 L182.22 310.0 L182.41 304.0 L182.67 298.0 L182.52 292.0 L182.60 286.0 L182.11 281.0 L181.89 276.0 L181.70 271.5Z"/>
<path d="M337.30 271.5 L336.87 276.0 L336.40 281.0 L336.10 286.0 L335.23 292.0 L335.21 298.0 L334.96 304.0 L334.22 310.0 L334.34 316.0 L333.95 322.0 L333.89 328.0 L334.11 334.0 L334.27 340.0 L334.06 346.0 L334.15 352.0 L334.28 358.0 L334.24 364.0 L334.46 370.0 L334.37 376.0 L334.38 382.0 L334.43 388.0 L334.11 394.0 L334.51 400.0 L333.88 406.0 L333.92 412.0 L334.41 418.0 L334.50 424.0 L334.03 430.0 L334.16 436.0 L334.26 442.0 L333.86 448.0 L334.41 454.0 L334.24 460.0 L334.33 466.0 L333.95 472.0 L334.23 478.0 L334.42 484.0 L333.86 490.0 L333.96 496.0 L334.46 502.0 L333.87 508.0 L334.42 514.0 L334.12 520.0 L333.96 526.0 L334.13 532.0 L334.28 538.0 L334.14 544.0 L334.63 550.0 L334.12 556.0 L334.46 562.0 L334.76 568.0 L334.77 574.0 L335.08 580.0 L334.85 586.0 L335.67 592.0 L335.22 598.0 L335.45 604.0 L335.75 610.0 L335.93 616.0 L336.37 622.0 L335.97 628.0 L336.72 634.0 L336.83 636.0 L337.10 641.0 L337.31 641.0 L337.80 636.0 L338.06 634.0 L338.00 628.0 L338.47 622.0 L338.24 616.0 L338.11 610.0 L338.18 604.0 L338.52 598.0 L338.15 592.0 L338.51 586.0 L338.51 580.0 L338.36 574.0 L338.71 568.0 L338.85 562.0 L338.73 556.0 L339.11 550.0 L338.94 544.0 L338.90 538.0 L339.46 532.0 L339.44 526.0 L339.18 520.0 L339.33 514.0 L338.98 508.0 L339.41 502.0 L339.20 496.0 L339.09 490.0 L339.51 484.0 L339.33 478.0 L339.46 472.0 L339.12 466.0 L339.05 460.0 L338.98 454.0 L338.93 448.0 L338.93 442.0 L339.44 436.0 L338.99 430.0 L339.32 424.0 L338.93 418.0 L339.23 412.0 L339.27 406.0 L339.36 400.0 L339.37 394.0 L338.94 388.0 L339.33 382.0 L339.09 376.0 L338.97 370.0 L339.49 364.0 L339.46 358.0 L339.47 352.0 L339.35 346.0 L339.00 340.0 L338.86 334.0 L339.02 328.0 L339.39 322.0 L339.29 316.0 L339.27 310.0 L338.85 304.0 L338.56 298.0 L338.99 292.0 L338.63 286.0 L338.21 281.0 L337.94 276.0 L337.70 271.5Z"/>
<path d="M476.40 271.5 L475.97 276.0 L475.50 281.0 L475.23 286.0 L474.61 292.0 L474.05 298.0 L473.76 304.0 L473.44 310.0 L473.74 316.0 L473.21 322.0 L473.11 328.0 L473.04 334.0 L473.56 340.0 L473.26 346.0 L473.16 352.0 L473.00 358.0 L473.17 364.0 L473.34 370.0 L473.19 376.0 L473.36 382.0 L473.08 388.0 L473.64 394.0 L473.49 400.0 L473.56 406.0 L473.29 412.0 L473.14 418.0 L472.97 424.0 L473.14 430.0 L473.10 436.0 L473.09 442.0 L473.55 448.0 L473.09 454.0 L473.62 460.0 L473.01 466.0 L473.56 472.0 L473.05 478.0 L473.33 484.0 L473.40 490.0 L473.10 496.0 L473.47 502.0 L473.23 508.0 L473.19 514.0 L473.24 520.0 L473.39 526.0 L473.30 532.0 L473.13 538.0 L473.02 544.0 L473.49 550.0 L473.23 556.0 L473.81 562.0 L473.53 568.0 L473.72 574.0 L473.84 580.0 L474.23 586.0 L474.50 592.0 L474.68 598.0 L474.59 604.0 L474.68 610.0 L475.17 616.0 L475.02 622.0 L475.73 628.0 L475.47 634.0 L476.05 636.0 L475.76 641.0 L476.49 641.0 L476.55 636.0 L476.91 634.0 L477.03 628.0 L477.41 622.0 L477.51 616.0 L477.53 610.0 L477.61 604.0 L477.58 598.0 L477.61 592.0 L477.67 586.0 L477.94 580.0 L477.99 574.0 L477.65 568.0 L477.85 562.0 L478.14 556.0 L478.49 550.0 L478.54 544.0 L478.27 538.0 L478.37 532.0 L478.18 526.0 L477.98 520.0 L477.99 514.0 L478.43 508.0 L478.40 502.0 L478.18 496.0 L478.60 490.0 L478.56 484.0 L478.08 478.0 L478.19 472.0 L478.52 466.0 L478.37 460.0 L478.46 454.0 L478.40 448.0 L478.37 442.0 L478.23 436.0 L478.44 430.0 L478.07 424.0 L478.13 418.0 L478.58 412.0 L478.00 406.0 L478.25 400.0 L478.20 394.0 L478.36 388.0 L478.01 382.0 L478.59 376.0 L478.61 370.0 L478.46 364.0 L478.16 358.0 L478.07 352.0 L478.35 346.0 L478.27 340.0 L477.96 334.0 L478.19 328.0 L478.12 322.0 L478.19 316.0 L477.93 310.0 L477.72 304.0 L477.98 298.0 L477.84 292.0 L477.72 286.0 L477.31 281.0 L477.04 276.0 L476.80 271.5Z"/>
</g>
<g fill="#fffaf2">
<rect x="93" y="236.8" width="41.4" height="2.8"/>
<rect x="112.9" y="239" width="2.3" height="6"/>
<path fill-rule="evenodd" d="M98.7 261.5 L99 256 C100 249 106 244.3 114 244.3 C122 244.3 128 249 129 256 L129.3 261.5 Z M114 248 C111.2 248 109.1 250.8 109.1 254 C109.1 257.2 111.2 260 114 260 C116.8 260 118.9 257.2 118.9 254 C118.9 250.8 116.8 248 114 248 Z"/>
<path d="M96 214.2 C98 215.5 101 217 105 217.4 L118.7 216.8 C121 215.5 123 212 125.5 211 C127.5 210.6 129 212 129.5 213 L131.2 215 C131 216.5 130 217 128.5 217.2 L127 217.5 C126.8 220 125.5 223 123.8 226.5 L122.5 229 L122.2 233 L123.6 235.6 L119.3 235.6 L119.2 227.8 C117 226 113 225.2 109.5 225.5 L108.3 231.5 L108.6 235.6 L105 235.6 L104.3 231 L104.9 226.5 C104.3 224 104.2 221 104 219.5 C101 219 98 217.5 96 215.2 Z"/>
</g>
<circle cx="387.4" cy="249.2" r="18.6" fill="#fff"/>
<line x1="387.40" y1="231.60" x2="387.40" y2="237.40" stroke="#913702" stroke-width="2.0"/>
<line x1="405.00" y1="249.20" x2="399.20" y2="249.20" stroke="#913702" stroke-width="2.0"/>
<line x1="387.40" y1="266.80" x2="387.40" y2="261.00" stroke="#913702" stroke-width="2.0"/>
<line x1="369.80" y1="249.20" x2="375.60" y2="249.20" stroke="#913702" stroke-width="2.0"/>
<circle cx="395.40" cy="235.34" r="1.25" fill="#913702"/>
<circle cx="401.26" cy="241.20" r="1.25" fill="#913702"/>
<circle cx="401.26" cy="257.20" r="1.25" fill="#913702"/>
<circle cx="395.40" cy="263.06" r="1.25" fill="#913702"/>
<circle cx="379.40" cy="263.06" r="1.25" fill="#913702"/>
<circle cx="373.54" cy="257.20" r="1.25" fill="#913702"/>
<circle cx="373.54" cy="241.20" r="1.25" fill="#913702"/>
<circle cx="379.40" cy="235.34" r="1.25" fill="#913702"/>
<g transform="translate(387.40 255.3) scale(0.82 1)"><text x="0" y="0" text-anchor="middle" font-family="Liberation Sans" font-weight="bold" font-size="17.5" letter-spacing="-0.3" fill="#74300c" stroke="#74300c" stroke-width="0.7">24</text></g>
<path fill="#fff" d="M416.8 243.9 L456.1 243.9 L459.6 262 L412 262 Z"/>
<path fill="none" stroke="#fff" stroke-width="1.7" stroke-linejoin="round" d="M420.3 243.4 C420.47 242.82 420.80 240.92 421.3 239.9 C421.80 238.88 422.70 238.02 423.3 237.3 C423.90 236.58 424.30 235.93 424.9 235.6 C425.50 235.27 426.35 235.13 426.9 235.3 C427.45 235.47 427.70 236.55 428.2 236.6 C428.70 236.65 429.35 235.87 429.9 235.6 C430.45 235.33 430.95 234.83 431.5 235 C432.05 235.17 432.75 235.88 433.2 236.6 C433.65 237.32 433.87 239.30 434.2 239.3 C434.53 239.30 434.77 237.48 435.2 236.6 C435.63 235.72 436.25 234.50 436.8 234 C437.35 233.50 437.88 233.43 438.5 233.6 C439.12 233.77 439.83 234.38 440.5 235 C441.17 235.62 441.90 236.75 442.5 237.3 C443.10 237.85 443.55 238.13 444.1 238.3 C444.65 238.47 445.25 238.08 445.8 238.3 C446.35 238.52 446.85 239.10 447.4 239.6 C447.95 240.10 448.60 240.67 449.1 241.3 C449.60 241.93 450.18 243.05 450.4 243.4"/>
<text x="435.5" y="255" text-anchor="middle" font-family="Liberation Serif" font-weight="bold" font-size="17" fill="#74300c" stroke="#74300c" stroke-width="0.4">g</text>
</svg>
<div class="hd" style="left:203.5px;width:100px;top:167px">Mniejsza<br>aktywność<br>(Psy starsze)</div>
<div class="hd" style="left:358px;width:100px;top:161px">Normalna<br>aktywność<br>(Psy dojrzałe)</div>
<div class="hd" style="left:500px;width:100px;top:158px">Większa<br>aktywność<br>(Psy dojrzałe<br>średnio aktywne)</div>
<div class="masa">Masa<br>Ciała</div>
<div class="r" style="top:268.08px"><span class="c1">5<span class="kg" style="margin-left:1px">kg</span></span><span class="c2">100 g</span><span class="c3">115 g</span><span class="c4">135 g</span></div>
<div class="r" style="top:295.22px"><span class="c1">10<span class="kg" style="margin-left:1px">kg</span></span><span class="c2">160 g</span><span class="c3">185 g</span><span class="c4">215 g</span></div>
<div class="r" style="top:322.36px"><span class="c1">15<span class="kg" style="margin-left:1px">kg</span></span><span class="c2">215 g</span><span class="c3">245 g</span><span class="c4">280 g</span></div>
<div class="r" style="top:349.50px"><span class="c1">20<span class="kg" style="margin-left:3.5px">kg</span></span><span class="c2">260 g</span><span class="c3">295 g</span><span class="c4">340 g</span></div>
<div class="r" style="top:376.64px"><span class="c1">25<span class="kg" style="margin-left:1px">kg</span></span><span class="c2">300 g</span><span class="c3">345 g</span><span class="c4">395 g</span></div>
<div class="r" style="top:403.78px"><span class="c1">30<span class="kg" style="margin-left:1px">kg</span></span><span class="c2">340 g</span><span class="c3">390 g</span><span class="c4">445 g</span></div>
<div class="r" style="top:430.92px"><span class="c1">35<span class="kg" style="margin-left:1px">kg</span></span><span class="c2">375 g</span><span class="c3">430 g</span><span class="c4">495 g</span></div>
<div class="r" style="top:458.06px"><span class="c1">40<span class="kg" style="margin-left:3.5px">kg</span></span><span class="c2">410 g</span><span class="c3">470 g</span><span class="c4">540 g</span></div>
<div class="r" style="top:485.20px"><span class="c1">45<span class="kg" style="margin-left:1px">kg</span></span><span class="c2">445 g</span><span class="c3">510 g</span><span class="c4">585 g</span></div>
<div class="r" style="top:512.34px"><span class="c1">50<span class="kg" style="margin-left:1px">kg</span></span><span class="c2">475 g</span><span class="c3">550 g</span><span class="c4">625 g</span></div>
<div class="r" style="top:539.48px"><span class="c1">55<span class="kg" style="margin-left:1px">kg</span></span><span class="c2">510 g</span><span class="c3">585 g</span><span class="c4">670 g</span></div>
<div class="r" style="top:566.62px"><span class="c1">60<span class="kg" style="margin-left:3.5px">kg</span></span><span class="c2">540 g</span><span class="c3">620 g</span><span class="c4">710 g</span></div>
<div class="r" style="top:593.76px"><span class="c1">65<span class="kg" style="margin-left:1px">kg</span></span><span class="c2">570 g</span><span class="c3">655 g</span><span class="c4">750 g</span></div>
<div class="r" style="top:620.90px"><span class="c1">70<span class="kg" style="margin-left:1px">kg</span></span><span class="c2">600 g</span><span class="c3">685 g</span><span class="c4">785 g</span></div>
<div class="foot">Podane ilości karmy odnoszą się do psów umiarkowanie aktywnych w normalnej temperaturze otoczenia. Indywidualne potrzeby różnią się, a ilość podawanej karmy<br>powinna zostać dostosowana tak, aby utrzymać prawidłową, szczupłą sylwetkę Twojego psa. Zwierzę powinno mieć stały dostęp do czystej, świeżej wody do picia.</div>
</body></html>
